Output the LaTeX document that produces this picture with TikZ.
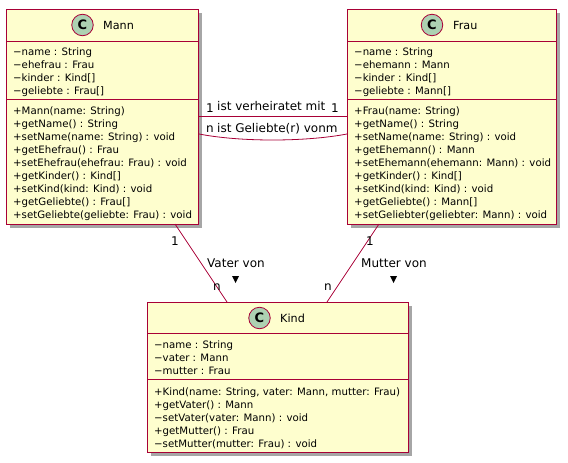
\documentclass[tikz,border=0pt]{standalone}
\usepackage{fontspec}
\setmainfont{DejaVu Sans}
\usetikzlibrary{shadows,calc}
\definecolor{pfill}{HTML}{FEFECE}
\definecolor{pline}{HTML}{A80036}
\definecolor{pcirc}{HTML}{ADD1B2}
\newcommand{\fl}{\rule{0pt}{10pt}}
\tikzset{
  x=1pt,y=-1pt,
  classbox/.style={draw=pline,fill=pfill,line width=1.1pt,inner sep=0pt,anchor=north west,
    drop shadow={shadow xshift=3.5pt,shadow yshift=-3.5pt,opacity=.35,fill=black}},
  sep/.style={draw=pline,line width=.9pt},
  rel/.style={draw=pline,line width=.8pt},
  members/.style={anchor=north west,inner sep=0pt,align=left,font=\fontsize{10.2}{13}\selectfont,text=black},
  title/.style={anchor=west,inner sep=0pt,font=\fontsize{11.2}{13}\selectfont,text=black},
  badge/.style={circle,draw=pline,fill=pcirc,line width=.8pt,minimum size=21.5pt,inner sep=0pt,font=\bfseries\fontsize{13}{13}\selectfont,text=black},
  lbl/.style={inner sep=0pt,font=\fontsize{12}{13}\selectfont,text=black}
}
\begin{document}
\begin{tikzpicture}
\useasboundingbox (0,0) rectangle (568,463);
% classes
\node[classbox,minimum width=192pt,minimum height=215pt] (mann) at (6,9) {};
\node[classbox,minimum width=209pt,minimum height=215pt] (frau) at (347,9) {};
\node[classbox,minimum width=261pt,minimum height=150pt] (kind) at (147,302) {};
% compartments
\draw[sep] (mann.west |- 0,41) -- (mann.east |- 0,41);
\draw[sep] (mann.west |- 0,99) -- (mann.east |- 0,99);
\draw[sep] (frau.west |- 0,41) -- (frau.east |- 0,41);
\draw[sep] (frau.west |- 0,99) -- (frau.east |- 0,99);
\draw[sep] (kind.west |- 0,333) -- (kind.east |- 0,333);
\draw[sep] (kind.west |- 0,379) -- (kind.east |- 0,379);
% headers
\node[badge] (cm) at (82.5,25) {C};
\node[title] (tm) at (103,25) {Mann};
\node[badge] (cf) at (432,25) {C};
\node[title] (tf) at (453,25) {Frau};
\node[badge] (ck) at (259.5,318) {C};
\node[title] (tk) at (280,318) {Kind};
% members
\node[members] (ma) at (13,45) {\fl−name : String\\−ehefrau : Frau\\−kinder : Kind[]\\−geliebte : Frau[]};
\node[members] (mo) at (13,104) {\fl+Mann(name: String)\\+getName() : String\\+setName(name: String) : void\\+getEhefrau() : Frau\\+setEhefrau(ehefrau: Frau) : void\\+getKinder() : Kind[]\\+setKind(kind: Kind) : void\\+getGeliebte() : Frau[]\\+setGeliebte(geliebte: Frau) : void};
\node[members] (fa) at (354,45) {\fl−name : String\\−ehemann : Mann\\−kinder : Kind[]\\−geliebte : Mann[]};
\node[members] (fo) at (354,104) {\fl+Frau(name: String)\\+getName() : String\\+setName(name: String) : void\\+getEhemann() : Mann\\+setEhemann(ehemann: Mann) : void\\+getKinder() : Kind[]\\+setKind(kind: Kind) : void\\+getGeliebte() : Mann[]\\+setGeliebter(geliebter: Mann) : void};
\node[members] (ka) at (154,338) {\fl−name : String\\−vater : Mann\\−mutter : Frau};
\node[members] (ko) at (154,385) {\fl+Kind(name: String, vater: Mann, mutter: Frau)\\+getVater() : Mann\\−setVater(vater: Mann) : void\\+getMutter() : Frau\\−setMutter(mutter: Frau) : void};
% connectors
\coordinate (m1) at (mann.east |- 0,116);
\coordinate (f1) at (frau.west |- 0,116);
\coordinate (m2) at (mann.east |- 0,134);
\coordinate (f2) at (frau.west |- 0,134);
\coordinate (m3) at (175,224);
\coordinate (k3) at (227,302);
\coordinate (f4) at (379,224);
\coordinate (k4) at (327,302);
\draw[rel] (m1) -- (f1);
\draw[rel] (m2) .. controls (240,142) and (305,142) .. (f2);
\draw[rel] (m3) -- (k3);
\draw[rel] (f4) -- (k4);
% labels
\node[lbl,anchor=base west] (l1) at (217,110) {ist verheiratet mit};
\node[lbl,anchor=base west] (l2) at (217,132) {ist Geliebte(r) vonm};
\node[lbl,anchor=base] (a1) at (210,112) {1};
\node[lbl,anchor=base] (b1) at (335,112) {1};
\node[lbl,anchor=base] (a2) at (210,132) {n};
\node[lbl,anchor=base west] (l3) at (207,267) {Vater von};
\node[lbl,anchor=base west] (l4) at (361,267) {Mutter von};
\node[lbl,anchor=base] (n1) at (175,245) {1};
\node[lbl,anchor=base] (n2) at (370,245) {1};
\node[lbl,anchor=base] (n3) at (217,290) {n};
\node[lbl,anchor=base] (n4) at (328,290) {n};
\path[fill=black] (232,276) -- (239,276) -- (235.5,283) -- cycle;
\path[fill=black] (390,276) -- (397,276) -- (393.5,283) -- cycle;
\end{tikzpicture}
\end{document}
